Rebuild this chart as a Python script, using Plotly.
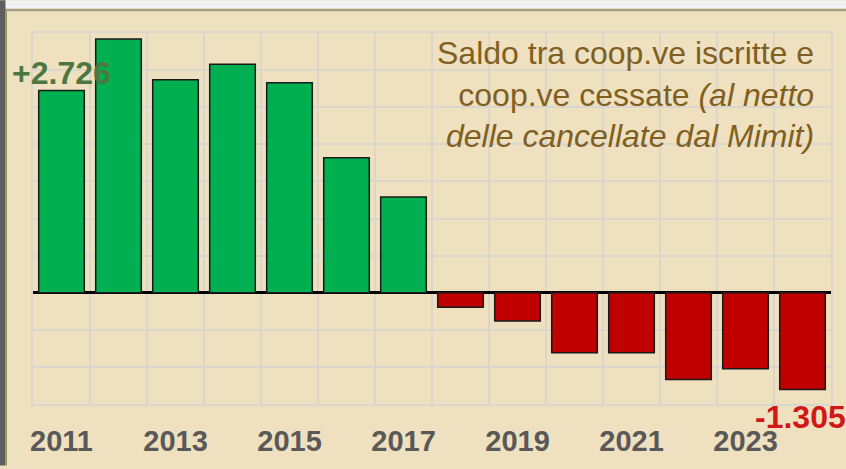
import plotly.graph_objects as go

years = [2011, 2012, 2013, 2014, 2015, 2016, 2017, 2018, 2019, 2020, 2021, 2022, 2023, 2024]
saldo = [2726, 3420, 2870, 3080, 2830, 1820, 1290, -195, -380, -810, -810, -1170, -1025, -1305]
tick_years = [2011, 2013, 2015, 2017, 2019, 2021, 2023]
tick_labels = [str(y) for y in tick_years]
title_lines = ["Saldo tra coop.ve iscritte e", "coop.ve cessate <i>(al netto</i>", "<i>delle cancellate dal Mimit)</i>"]

W, H = 846, 469
L, R, T, B = 33, 15, 33, 62
pw, ph = W - L - R, H - T - B

def px(x):
    return (x - L) / pw

def py(y):
    return 1 - (y - T) / ph

BG = "#EFE1BF"
GRID = "#DAD6CB"
colors = ["#00B050" if v >= 0 else "#C00000" for v in saldo]

fig = go.Figure()
fig.add_trace(go.Bar(
    x=years, y=saldo,
    marker=dict(color=colors, line=dict(color="#1A1A1A", width=1.5)),
    width=0.8,
    hoverinfo="x+y",
))

first_val, last_val = saldo[0], saldo[-1]
fig.add_annotation(x=years[0], y=first_val, xref="x", yref="y",
                   text="+2.726", showarrow=False, yanchor="bottom", xanchor="left",
                   xshift=-52, yshift=-3,
                   font=dict(family="Liberation Sans, Arial", size=32, color="#4B7840", weight="bold"))
fig.add_annotation(x=years[-1], y=last_val, xref="x", yref="y",
                   text="-1.305", showarrow=False, yanchor="top", xanchor="left",
                   xshift=-50, yshift=-7,
                   font=dict(family="Liberation Sans, Arial", size=32, color="#D01818", weight="bold"))

fig.add_annotation(x=px(816), y=py(33), xref="paper", yref="paper",
                   text="<br>".join(title_lines), showarrow=False,
                   xanchor="right", yanchor="top", align="right",
                   font=dict(family="Liberation Sans, Arial", size=32, color="#806022"))

# frame strips (screenshot border)
fig.add_shape(type="rect", xref="paper", yref="paper", x0=px(0), x1=px(W), y0=py(8.5), y1=py(0),
              fillcolor="#F1F1F1", line_width=0, layer="above")
fig.add_shape(type="rect", xref="paper", yref="paper", x0=px(0), x1=px(W), y0=py(11), y1=py(8.5),
              fillcolor="#A3A27E", line_width=0, layer="above")
fig.add_shape(type="rect", xref="paper", yref="paper", x0=px(0), x1=px(5.5), y0=py(H), y1=py(0),
              fillcolor="#5E5E5E", line_width=0, layer="above")
fig.add_shape(type="rect", xref="paper", yref="paper", x0=px(5.5), x1=px(7), y0=py(H), y1=py(11),
              fillcolor="#8C9A5C", line_width=0, layer="above")

fig.update_layout(
    width=W, height=H,
    margin=dict(l=L, r=R, t=T, b=B, pad=0),
    paper_bgcolor=BG, plot_bgcolor=BG,
    showlegend=False,
    bargap=0.2,
)
fig.update_xaxes(
    range=[2010.5, 2024.5],
    tickmode="array", tickvals=tick_years, ticktext=tick_labels,
    showgrid=False,
    minor=dict(tick0=2010.5, dtick=1, showgrid=True, gridcolor=GRID, gridwidth=1.5),
    tickfont=dict(family="Liberation Sans, Arial", size=29, color="#595959", weight="bold"),
    showline=True, linecolor=GRID, linewidth=1.5, mirror=True,
    ticks="", ticklabelstandoff=10,
    zeroline=False,
)
fig.update_yaxes(
    range=[-1500, 3500], dtick=500, tick0=0,
    showticklabels=False,
    showgrid=True, gridcolor=GRID, gridwidth=1.5,
    zeroline=True, zerolinecolor="#000000", zerolinewidth=3,
    showline=True, linecolor=GRID, linewidth=1.5, mirror=True,
    ticks="",
)

fig.write_html("out.html", config={"displayModeBar": False},
               post_script="document.body.style.margin='0';document.body.style.overflow='hidden';")
